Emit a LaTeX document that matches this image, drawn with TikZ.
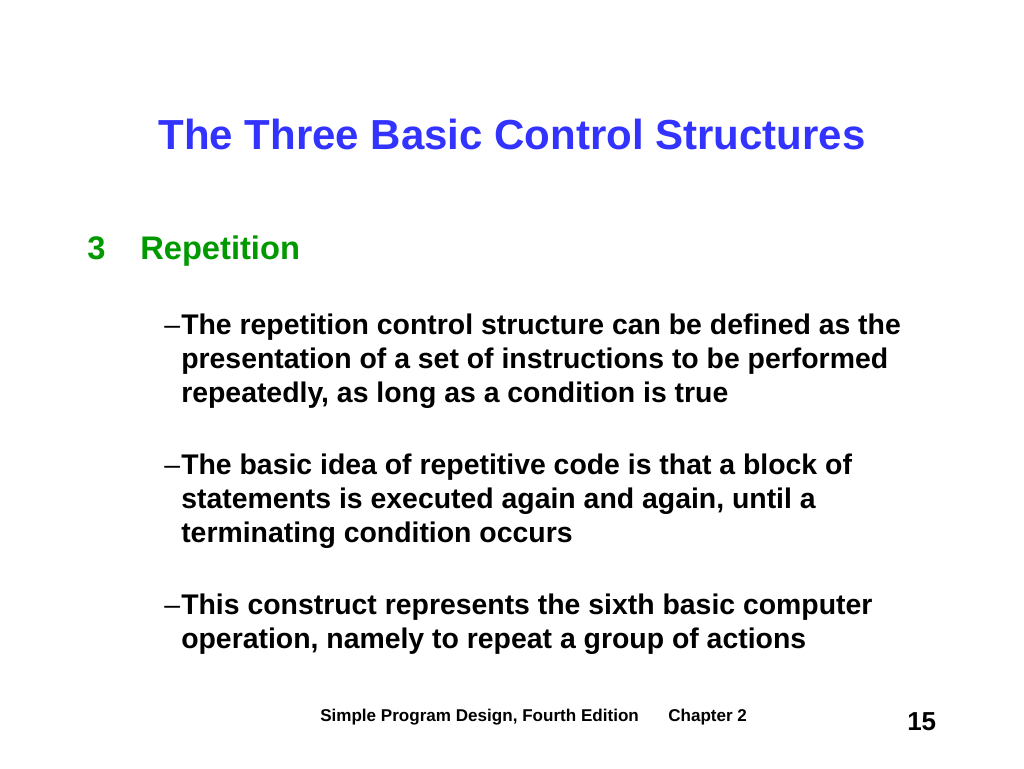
\documentclass[tikz,border=0pt]{standalone}
\usepackage{fontspec}
\setmainfont{Liberation Sans}
\definecolor{tblue}{RGB}{51,51,255}
\definecolor{tgreen}{RGB}{0,153,0}
\begin{document}
\begin{tikzpicture}[x=0.75pt,y=-0.75pt,
  body/.style={anchor=base west,inner sep=0pt,font=\fontsize{21.3}{25.5}\selectfont\bfseries},
  bulletdash/.style={anchor=base west,inner sep=0pt,font=\fontsize{21.3}{25.5}\selectfont},
  foot/.style={anchor=base west,inner sep=0pt,font=\fontsize{12.8}{14}\selectfont\bfseries}]
\useasboundingbox[fill=white] (0,0) rectangle (1024,768);
\node[anchor=base,inner sep=0pt,text=tblue,font=\fontsize{31.5}{36}\selectfont\bfseries] (title) at (512,149) {The Three Basic Control Structures};
\node[anchor=base west,inner sep=0pt,text=tgreen,font=\fontsize{24.5}{28}\selectfont\bfseries] (num) at (87,259) {3};
\node[anchor=base west,inner sep=0pt,text=tgreen,font=\fontsize{24.5}{28}\selectfont\bfseries] (rep) at (140,259) {Repetition};
\node[bulletdash] (d1) at (164,334) {–};
\node[body] (a1) at (181,334) {The repetition control structure can be defined as the};
\node[body] (a2) at (181,368) {presentation of a set of instructions to be performed};
\node[body] (a3) at (181,402) {repeatedly, as long as a condition is true};
\node[bulletdash] (d2) at (164,474) {–};
\node[body] (b1) at (181,474) {The basic idea of repetitive code is that a block of};
\node[body] (b2) at (181,508) {statements is executed again and again, until a};
\node[body] (b3) at (181,542) {terminating condition occurs};
\node[bulletdash] (d3) at (164,614) {–};
\node[body] (c1) at (181,614) {This construct represents the sixth basic computer};
\node[body] (c2) at (181,648) {operation, namely to repeat a group of actions};
\node[foot] (f1) at (320,721) {Simple Program Design, Fourth Edition};
\node[foot] (f2) at (668,721) {Chapter 2};
\node[anchor=base west,inner sep=0pt,font=\fontsize{19.5}{22}\selectfont\bfseries] (pg) at (907,730) {15};
\end{tikzpicture}
\end{document}
